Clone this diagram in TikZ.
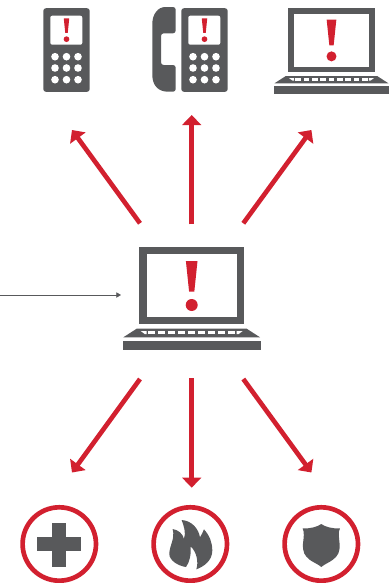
\documentclass[tikz,border=0pt]{standalone}
\usepackage{amsmath,amssymb}
\usepackage{tikz}
\usetikzlibrary{arrows.meta,positioning}
\definecolor{AlertRed}{HTML}{D2202F}
\definecolor{IconGray}{HTML}{58595B}
\newcommand{\alertmark}{
    \fill[AlertRed] (-5.8,-39) -- (5.8,-39) -- (2.6,-8.3) -- (-2.6,-8.3) -- cycle;
    \fill[AlertRed] (0,5) circle (6);
}

\begin{document}
\begin{tikzpicture}[
    x=0.75pt, y=-0.75pt,
    icon/.style={fill=IconGray, draw=none},
    hole/.style={fill=white, draw=none},
    alertflow/.style={
        -{Triangle[length=7.5pt, width=14pt]}, color=AlertRed,
        line width=3.5pt
    },
    inflow/.style={
        -{Triangle[length=3.5pt, width=4pt]}, color=IconGray,
        line width=0.5pt
    },
    badge/.style={
        circle, draw=AlertRed, fill=white, line width=3.5pt,
        minimum size=73.4*0.75pt, inner sep=0pt
    },
    laptop/.pic={
        \fill[icon] (-52.4,-53) rectangle (52,24.3);
        \fill[hole] (-45,-46.3) rectangle (45,17.3);
        \alertmark
        \fill[icon] (-55,28.7) -- (55,28.7) -- (68.3,37.3) -- (-68.4,37.3) -- cycle;
        \fill[hole] (-51,31) -- (-45,31) -- (-45,34) -- (-47,34) -- cycle;
        \fill[hole] (51,31) -- (45,31) -- (45,34) -- (47,34) -- cycle;
        \foreach \k in {-40,-30,...,40}
            \fill[hole] (\k-3.4,31) rectangle (\k+3.4,34);
        \fill[icon] (-68.7,41) rectangle (69.3,50);
    },
    mobile/.pic={
        \fill[icon, rounded corners=2pt] (-23.2,-41.8) rectangle (23.2,41.8);
        \fill[hole, rounded corners=1.5pt] (-16.2,-34.3) rectangle (15.8,-5.3);
        \begin{scope}[shift={(0,-13.2)}, scale=0.474]
            \alertmark
        \end{scope}
        \foreach \r in {6.7,18,29.7}
            \foreach \c in {-11.5,0,11.5}
                \fill[hole] (\c,\r) circle (3.8);
    },
]

\useasboundingbox (0,0) rectangle (392,583);

% ── Top row ──
\pic at (66.5,50) {mobile};
\pic at (204.5,50) {mobile};
\pic[scale=0.833] at (331.5,52.2) {laptop};

% ── Handset ──
\fill[icon, rounded corners=2pt] (175.7,7) -- (168,7) [sharp corners]
    .. controls (158,7) and (152.3,14) .. (152.3,24) -- (152.3,75)
    .. controls (152.3,85) and (158,91.7) .. (168,91.7) [rounded corners=2pt]
    -- (175.7,91.7) -- (175.7,65) -- (161,65) -- (161,33.3) -- (175.7,33.3) -- cycle;

% ── Hub ──
\pic at (191.7,300) {laptop};

% ── Bottom row ──
\node[badge] (medical) at (59.3,544) {};
\node[badge] (fire) at (190.3,544) {};
\node[badge] (police) at (321.3,544) {};

\fill[icon] (37,537) rectangle (81,551);
\fill[icon] (52,523) rectangle (66,567);

\begin{scope}[shift={(190.3,544)}, scale=1/3]
    \fill[icon] (-13,69) .. controls (-35,66) and (-63,50) .. (-63,30)
        .. controls (-63,5) and (-45,-15) .. (-53,-45)
        .. controls (-35,-42) and (-22,-30) .. (-19,-15)
        .. controls (-12,-35) and (-20,-55) .. (-26,-72)
        .. controls (5,-70) and (25,-45) .. (29,-20)
        .. controls (34,-28) and (38,-36) .. (41,-44)
        .. controls (58,-25) and (66,-5) .. (66,20)
        .. controls (66,50) and (40,68) .. (18,76)
        .. controls (25,55) and (20,25) .. (1,7)
        .. controls (3,30) and (-2,55) .. (-13,69) -- cycle;
\end{scope}

\begin{scope}[shift={(321.3,544)}, scale=1/3]
    \fill[icon] (0,-60) .. controls (-10,-52) and (-35,-45) .. (-56,-47)
        .. controls (-50,-35) and (-53,-20) .. (-55,0)
        .. controls (-56,25) and (-50,35) .. (-35,47)
        .. controls (-25,55) and (-10,60) .. (0,69)
        .. controls (10,60) and (25,55) .. (35,47)
        .. controls (50,35) and (56,25) .. (55,0)
        .. controls (53,-20) and (50,-35) .. (56,-47)
        .. controls (35,-45) and (10,-52) .. (0,-60) -- cycle;
\end{scope}

% ── Flow arrows ──
\coordinate (hubnw) at (140,223.3);
\coordinate (hubn) at (191.7,224.3);
\coordinate (hubne) at (243.3,223.3);
\coordinate (hubsw) at (140,379);
\coordinate (hubs) at (191.7,378.3);
\coordinate (hubse) at (243.3,379);
\coordinate (hubw) at (121,295);
\coordinate (feed) at (0,295);
\coordinate (mobiletip) at (72,130);
\coordinate (desktip) at (191.7,115);
\coordinate (laptoptip) at (311.4,130);
\coordinate (medicaltip) at (72,472.5);
\coordinate (firetip) at (191.7,487.7);
\coordinate (policetip) at (311.4,472.5);

\draw[alertflow] (hubnw) -- (mobiletip);
\draw[alertflow] (hubn) -- (desktip);
\draw[alertflow] (hubne) -- (laptoptip);
\draw[alertflow] (hubsw) -- (medicaltip);
\draw[alertflow] (hubs) -- (firetip);
\draw[alertflow] (hubse) -- (policetip);
\draw[inflow] (feed) -- (hubw);

\end{tikzpicture}
\end{document}
